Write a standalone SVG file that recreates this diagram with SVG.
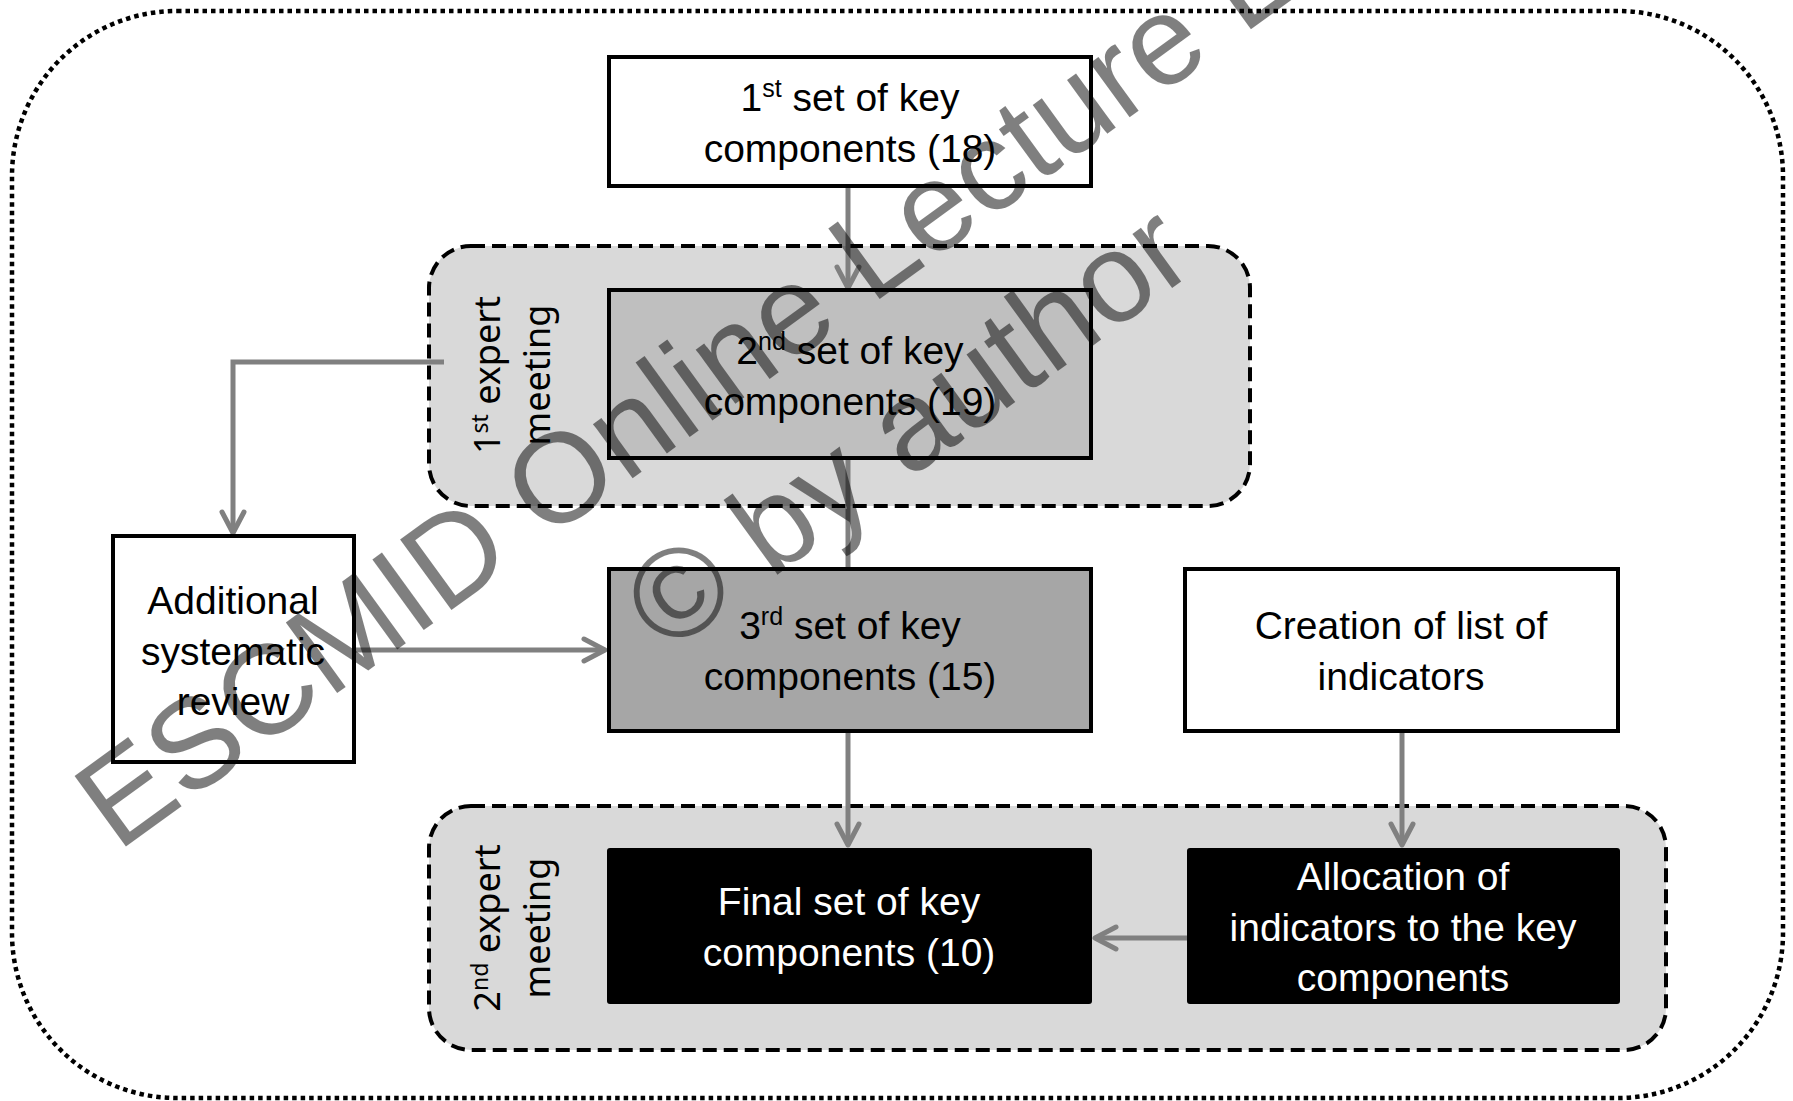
<svg xmlns="http://www.w3.org/2000/svg" width="1793" height="1101" viewBox="0 0 1793 1101">
  <style>
    .label { font-family: "Liberation Sans", Arial, sans-serif; font-size: 39px; text-anchor: middle; fill: #000; }
    .label.inv { fill: #fff; }
    .sup { font-size: 25px; }
    .side { font-family: "Noto Sans", "Open Sans", sans-serif; font-size: 36px; text-anchor: middle; fill: #000; }
    .side .sup { font-size: 23px; }
    .box { stroke: #000; stroke-width: 4; }
    .group { fill: #d9d9d9; stroke: #000; stroke-width: 4; stroke-dasharray: 14 7; }
    .frame { fill: none; stroke: #000; stroke-width: 4.5; stroke-dasharray: 4.5 4; }
    .link { fill: none; stroke: #808080; stroke-width: 5; }
    .mark { font-family: "Liberation Sans", Arial, sans-serif; font-size: 127px; text-anchor: middle; fill: #000; fill-opacity: 0.5; }
  </style>
  <defs>
    <marker id="arrow" markerUnits="userSpaceOnUse" markerWidth="40" markerHeight="40" refX="0" refY="0" orient="auto" overflow="visible">
      <path d="M-21,-11 L0,0 L-21,11" fill="none" stroke="#808080" stroke-width="5" stroke-linecap="round" stroke-linejoin="round"/>
    </marker>
  </defs>

  <rect width="1793" height="1101" fill="#fff"/>

  <!-- outer dotted frame -->
  <rect class="frame" x="12" y="11" width="1771" height="1087" rx="165" ry="165"/>

  <!-- meeting groups -->
  <g id="meeting1">
    <rect class="group" x="429" y="246" width="821" height="260" rx="42" ry="42"/>
    <text class="side" transform="translate(500,375) rotate(-90)">1<tspan class="sup" dy="-12">st</tspan><tspan dy="12"> expert</tspan></text>
    <text class="side" transform="translate(550,375) rotate(-90)">meeting</text>
  </g>
  <g id="meeting2">
    <rect class="group" x="429" y="806" width="1237" height="244" rx="42" ry="42"/>
    <text class="side" transform="translate(500,928) rotate(-90)">2<tspan class="sup" dy="-12">nd</tspan><tspan dy="12"> expert</tspan></text>
    <text class="side" transform="translate(550,928) rotate(-90)">meeting</text>
  </g>

  <!-- connectors -->
  <g id="connectors">
    <path class="link" d="M848,186 V288" marker-end="url(#arrow)"/>
    <path class="link" d="M848,459 V568"/>
    <path class="link" d="M444,362 H233 V533" marker-end="url(#arrow)"/>
    <path class="link" d="M354,650 H605" marker-end="url(#arrow)"/>
    <path class="link" d="M848,732 V845" marker-end="url(#arrow)"/>
    <path class="link" d="M1402,732 V845" marker-end="url(#arrow)"/>
    <path class="link" d="M1187,938 H1095" marker-end="url(#arrow)"/>
  </g>

  <g id="set1">
    <rect class="box" x="609" y="57" width="482" height="129" fill="#fff"/>
    <text class="label" x="850" y="111">1<tspan class="sup" dy="-14">st</tspan><tspan dy="14"> set of key</tspan></text>
    <text class="label" x="850" y="162">components (18)</text>
  </g>

  <g id="set2">
    <rect class="box" x="609" y="290" width="482" height="168" fill="#bfbfbf"/>
    <text class="label" x="850" y="364">2<tspan class="sup" dy="-14">nd</tspan><tspan dy="14"> set of key</tspan></text>
    <text class="label" x="850" y="415">components (19)</text>
  </g>

  <g id="review">
    <rect class="box" x="113" y="536" width="241" height="226" fill="#fff"/>
    <text class="label" x="233" y="614">Additional</text>
    <text class="label" x="233" y="665">systematic</text>
    <text class="label" x="233" y="715">review</text>
  </g>

  <g id="set3">
    <rect class="box" x="609" y="569" width="482" height="162" fill="#a6a6a6"/>
    <text class="label" x="850" y="639">3<tspan class="sup" dy="-14">rd</tspan><tspan dy="14"> set of key</tspan></text>
    <text class="label" x="850" y="690">components (15)</text>
  </g>

  <g id="indicators">
    <rect class="box" x="1185" y="569" width="433" height="162" fill="#fff"/>
    <text class="label" x="1401" y="639">Creation of list of</text>
    <text class="label" x="1401" y="690">indicators</text>
  </g>

  <g id="final">
    <rect x="607" y="848" width="485" height="156" rx="3" fill="#000"/>
    <text class="label inv" x="849" y="915">Final set of key</text>
    <text class="label inv" x="849" y="966">components (10)</text>
  </g>

  <g id="allocation">
    <rect x="1187" y="848" width="433" height="156" rx="3" fill="#000"/>
    <text class="label inv" x="1403" y="890">Allocation of</text>
    <text class="label inv" x="1403" y="941">indicators to the key</text>
    <text class="label inv" x="1403" y="991">components</text>
  </g>

  <!-- copyright watermark -->
  <g id="watermark" transform="translate(837,330) rotate(-36)">
    <text class="mark" x="0" y="0">ESCMID Online Lecture Library</text>
    <text class="mark" x="0" y="163">© by author</text>
  </g>
</svg>
